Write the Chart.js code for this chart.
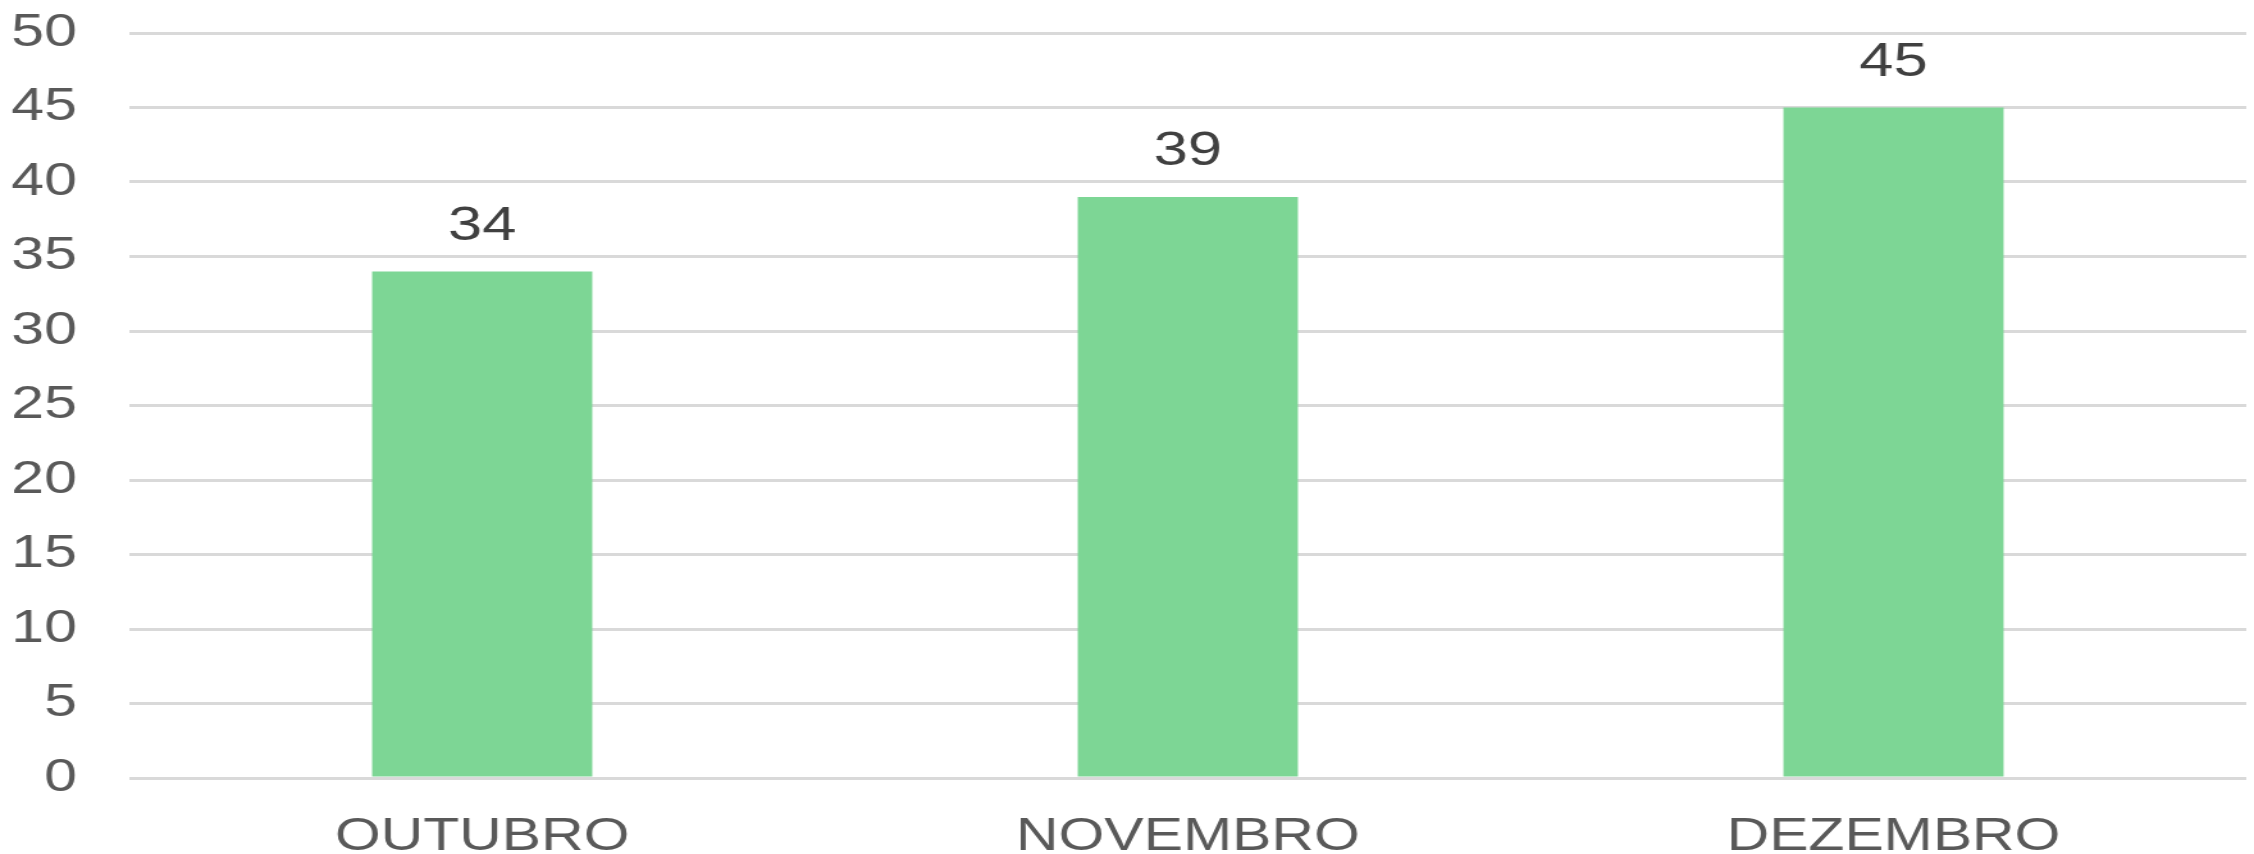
<!DOCTYPE html>
<html>
<head>
<meta charset="utf-8">
<script src="https://cdn.jsdelivr.net/npm/chart.js@4/dist/chart.umd.min.js"></script>
<style>
  body { margin: 0; background: #ffffff; }
</style>
</head>
<body>
<!-- drawn narrower and stretched sideways, like the wide lettering of the original -->
<canvas id="chart" width="1760" height="854" style="display:block;width:2254px;height:854px"></canvas>
<script>
// DATA
const months = ["OUTUBRO", "NOVEMBRO", "DEZEMBRO"];
const counts = [34, 39, 45];
const yTicks = [0, 5, 10, 15, 20, 25, 30, 35, 40, 45, 50];

const FONT = "'Liberation Sans', Arial, sans-serif";

// value labels above each bar
const valueLabels = {
    id: "valueLabels",
    afterDatasetsDraw(chart) {
        const ctx = chart.ctx;
        const meta = chart.getDatasetMeta(0);
        ctx.save();
        ctx.font = "48px " + FONT;
        ctx.fillStyle = "#404040";
        ctx.textAlign = "center";
        ctx.textBaseline = "middle";
        meta.data.forEach((bar, i) => {
            ctx.fillText(String(counts[i]), bar.x, bar.y - 45);
        });
        ctx.restore();
    }
};

const chart = new Chart(document.getElementById("chart"), {
    type: "bar",
    data: {
        labels: months,
        datasets: [{
            data: counts,
            backgroundColor: "#7dd695",
            borderWidth: 0,
            barPercentage: 0.312,
            categoryPercentage: 1,
        }],
    },
    options: {
        responsive: false,
        devicePixelRatio: 1,
        animation: false,
        layout: { padding: { top: 33, right: 6, bottom: 0, left: 0 } },
        plugins: {
            legend: { display: false },
            tooltip: { enabled: false },
        },
        scales: {
            x: {
                grid: { display: false },
                border: { display: false },
                afterFit(axis) {
                    axis.height = 76;
                    axis.paddingLeft = 0;
                    axis.paddingRight = 0;
                },
                ticks: {
                    color: "#595959",
                    padding: 28,
                    font: { family: FONT, size: 46, lineHeight: 1 },
                    maxRotation: 0,
                },
            },
            y: {
                min: 0,
                max: 50,
                afterBuildTicks(axis) {
                    axis.ticks = yTicks.map(v => ({ value: v }));
                },
                afterFit(axis) {
                    axis.width = 101;
                    axis.paddingTop = 0;
                    axis.paddingBottom = 0;
                },
                grid: { color: "#d9d9d9", lineWidth: 3, drawTicks: false },
                border: { display: false },
                ticks: {
                    color: "#595959",
                    padding: 41,
                    font: { family: FONT, size: 46 },
                },
            },
        },
    },
    plugins: [valueLabels],
});
</script>
</body>
</html>
